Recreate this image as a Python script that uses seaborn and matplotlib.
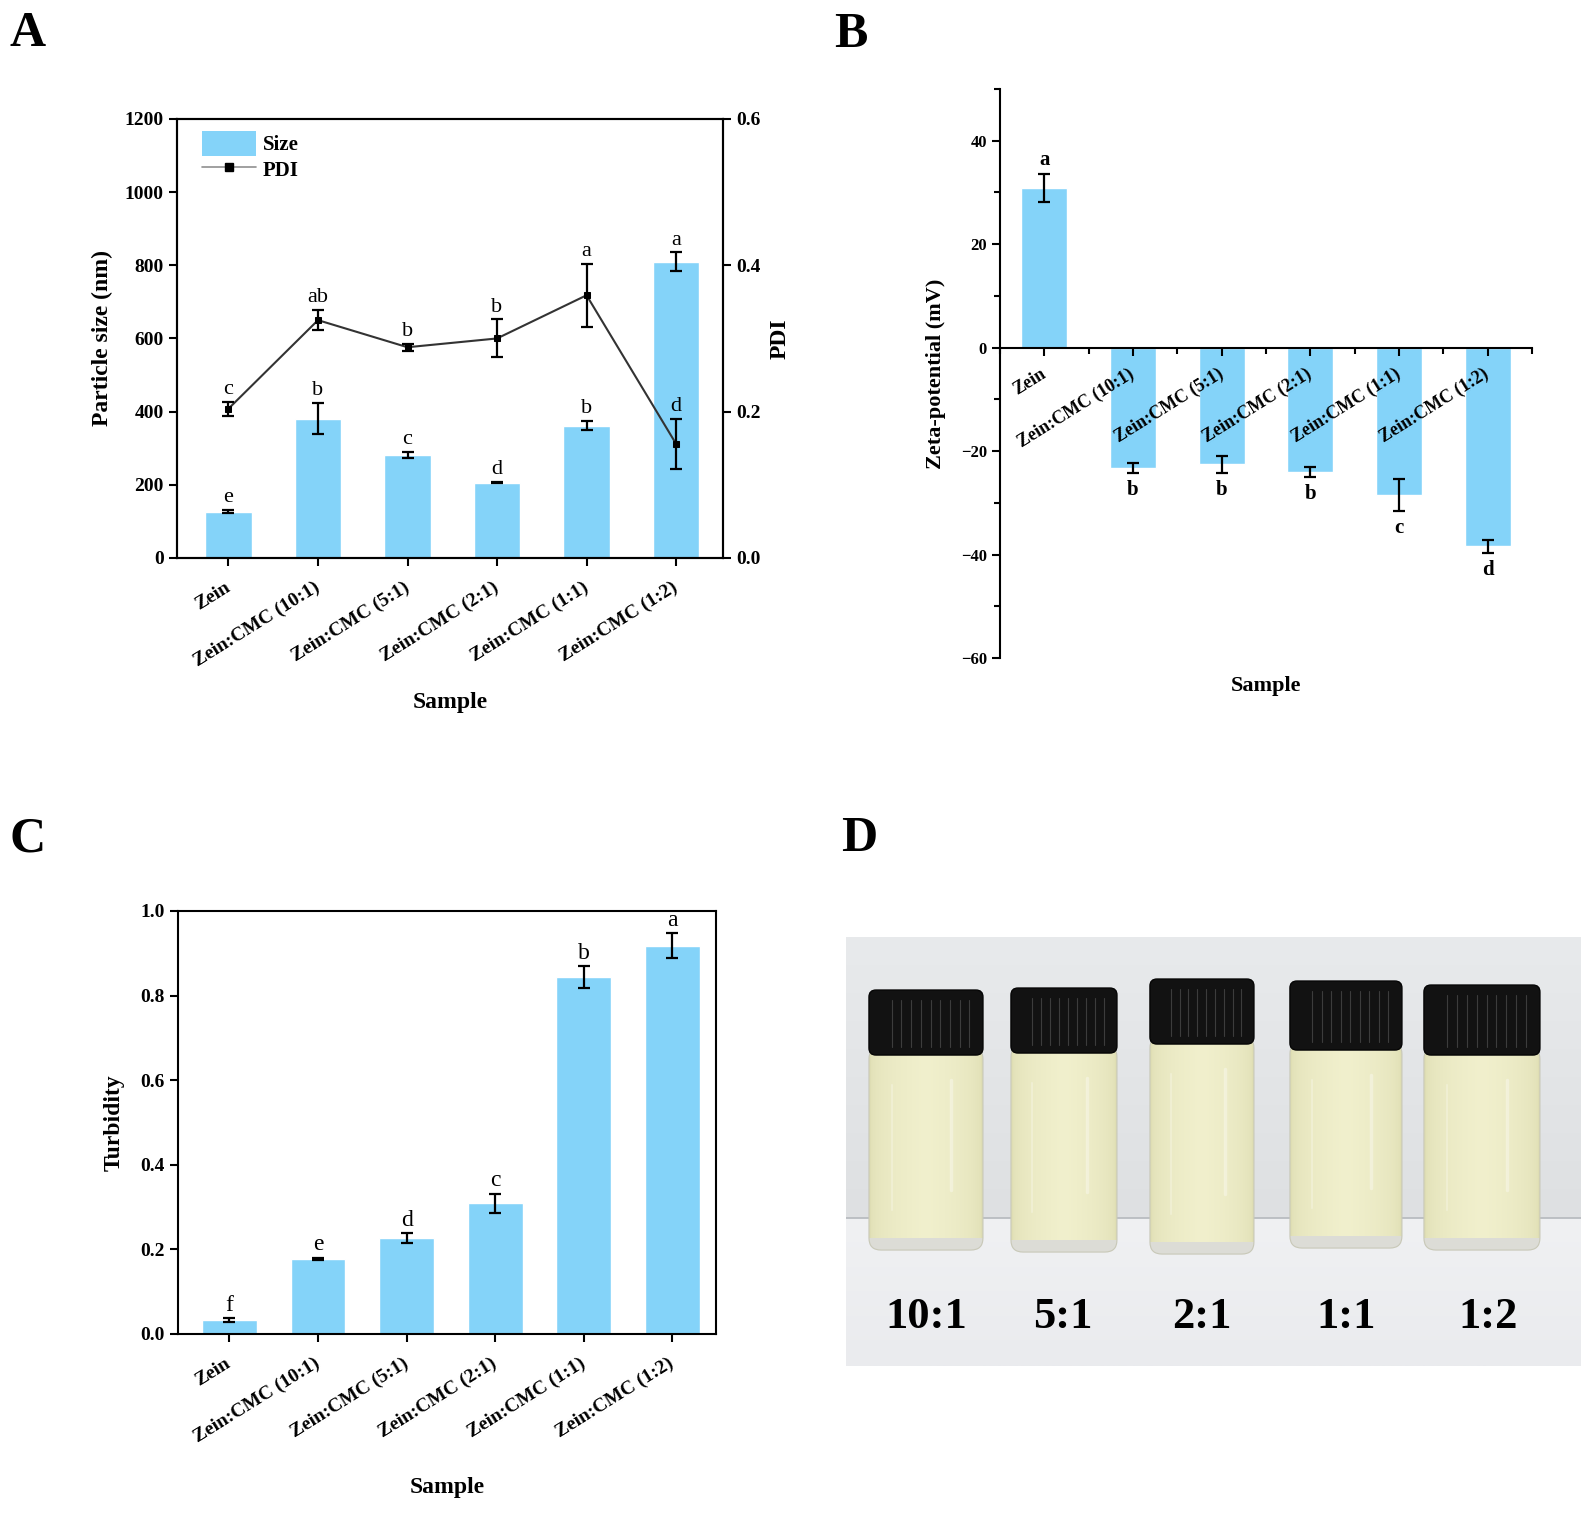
import numpy as np
import matplotlib
matplotlib.use('Agg')
import matplotlib.pyplot as plt
import seaborn as sns
from matplotlib.patches import Patch, FancyBboxPatch, Rectangle
from matplotlib.lines import Line2D
from matplotlib.ticker import MultipleLocator, FormatStrFormatter

# data
samples = ['Zein', 'Zein:CMC (10:1)', 'Zein:CMC (5:1)', 'Zein:CMC (2:1)',
           'Zein:CMC (1:1)', 'Zein:CMC (1:2)']

size_nm = [127, 381, 282, 206, 362, 809]
size_sd = [4, 42, 8, 2, 13, 26]
size_letters = ['e', 'b', 'c', 'd', 'b', 'a']

pdi = [0.204, 0.325, 0.288, 0.300, 0.359, 0.156]
pdi_sd = [0.0095, 0.0136, 0.005, 0.026, 0.043, 0.034]
pdi_letters = ['c', 'ab', 'b', 'b', 'a', 'd']

zeta_mv = [30.8, -23.3, -22.6, -24.1, -28.5, -38.4]
zeta_sd = [2.7, 1.0, 1.6, 1.0, 3.1, 1.3]
zeta_letters = ['a', 'b', 'b', 'b', 'c', 'd']

turbidity = [0.033, 0.178, 0.226, 0.309, 0.844, 0.918]
turb_sd = [0.004, 0.002, 0.012, 0.022, 0.025, 0.029]
turb_letters = ['f', 'e', 'd', 'c', 'b', 'a']

ratios = ['10:1', '5:1', '2:1', '1:1', '1:2']

bar_col = '#84D3F9'

sns.set_style('ticks')
plt.rcParams['font.family'] = ['Liberation Serif', 'DejaVu Serif']
plt.rcParams['font.weight'] = 'bold'
plt.rcParams['axes.labelweight'] = 'bold'
plt.rcParams['axes.linewidth'] = 1.5
plt.rcParams['axes.edgecolor'] = 'black'
for key in ['text.color', 'axes.labelcolor', 'xtick.color', 'ytick.color']:
    plt.rcParams[key] = 'black'

fig = plt.figure(figsize=(15.86, 15.15), dpi=100)
x = np.arange(len(samples))


def style_axis(ax, labelsize=14):
    ax.tick_params(direction='out', length=6, width=1.5, labelsize=labelsize, colors='black')
    for lbl in ax.get_yticklabels():
        lbl.set_fontweight('bold')


def rot_labels(ax, size=14, pad=14):
    ax.set_xticks(x)
    ax.set_xticklabels(samples, rotation=32, ha='right', va='center',
                       rotation_mode='anchor', fontsize=size, fontweight='bold')
    ax.tick_params(axis='x', pad=pad)


def put_letters(ax, vals, sds, letters, size, weight, up=2, down=-6):
    for i, (v, s, t) in enumerate(zip(vals, sds, letters)):
        if v >= 0:
            ax.annotate(t, (i, v + s), xytext=(0, up), textcoords='offset points',
                        ha='center', va='bottom', fontsize=size, fontweight=weight, zorder=6)
        else:
            ax.annotate(t, (i, v - s), xytext=(0, down), textcoords='offset points',
                        ha='center', va='top', fontsize=size, fontweight=weight, zorder=6)


err_kw = dict(fmt='none', ecolor='black', elinewidth=1.6, capsize=4, capthick=1.6, zorder=4)

# ---------------- A: particle size + PDI ----------------
axA = fig.add_axes([0.1116, 0.6317, 0.3443, 0.2898])
sns.barplot(x=samples, y=size_nm, color=bar_col, saturation=1, width=0.52, ax=axA)
axA.errorbar(x, size_nm, yerr=size_sd, **err_kw)
axA.set_xlim(-0.575, 5.525)
axA.set_ylim(0, 1200)
axA.yaxis.set_major_locator(MultipleLocator(200))
put_letters(axA, size_nm, size_sd, size_letters, 16, 'normal')
axA.set_ylabel('Particle size (nm)', fontsize=17)
axA.yaxis.set_label_coords(-0.117, 0.5)
axA.set_xlabel('Sample', fontsize=17)
axA.xaxis.set_label_coords(0.5, -0.305)
style_axis(axA)
rot_labels(axA)

axA2 = axA.twinx()
sns.lineplot(x=x, y=pdi, ax=axA2, color='#333333', lw=1.5, marker='s', markersize=5,
             markerfacecolor='black', markeredgecolor='black')
axA2.errorbar(x, pdi, yerr=pdi_sd, **err_kw)
axA2.set_ylim(0, 0.6)
axA2.yaxis.set_major_locator(MultipleLocator(0.2))
axA2.yaxis.set_major_formatter(FormatStrFormatter('%.1f'))
put_letters(axA2, pdi, pdi_sd, pdi_letters, 16, 'normal')
axA2.set_ylabel('PDI', fontsize=17)
axA2.yaxis.set_label_coords(1.086, 0.5)
style_axis(axA2)
for sp in axA2.spines.values():
    sp.set_linewidth(1.5)

handles = [Patch(facecolor=bar_col, edgecolor='none', label='Size'),
           Line2D([0], [0], color='#909090', lw=1.2, marker='s', markersize=6,
                  markerfacecolor='black', markeredgecolor='black', label='PDI')]
axA.legend(handles=handles, loc='upper left', bbox_to_anchor=(0.046, 0.972), frameon=False,
           prop={'weight': 'bold', 'size': 15}, handlelength=2.6, handleheight=1.45,
           borderpad=0, borderaxespad=0, labelspacing=0.05, handletextpad=0.3)

# ---------------- B: zeta potential ----------------
axB = fig.add_axes([0.6305, 0.5657, 0.3354, 0.3756])
sns.barplot(x=samples, y=zeta_mv, color=bar_col, saturation=1, width=0.52, ax=axB)
axB.errorbar(x, zeta_mv, yerr=zeta_sd, **err_kw)
axB.set_axisbelow(False)
axB.set_xlim(-0.5, 5.5)
axB.set_ylim(-60, 50)
axB.yaxis.set_major_locator(MultipleLocator(20))
axB.yaxis.set_minor_locator(MultipleLocator(10))
axB.xaxis.set_minor_locator(MultipleLocator(1, offset=0.5))
axB.spines['top'].set_visible(False)
axB.spines['right'].set_visible(False)
axB.spines['bottom'].set_position(('data', 0))
put_letters(axB, zeta_mv, zeta_sd, zeta_letters, 15, 'bold', up=3, down=-5)
axB.set_ylabel('Zeta-potential (mV)', fontsize=16)
axB.yaxis.set_label_coords(-0.1015, 0.5)
style_axis(axB, labelsize=12)
axB.tick_params(which='minor', direction='out', length=4, width=1.5)
rot_labels(axB, size=13, pad=12)
axB.set_xlabel('')
fig.text(1000 / 1586 + 0.3354 / 2, 1 - 676 / 1515, 'Sample', ha='center', va='top',
         fontsize=16, fontweight='bold')

# ---------------- C: turbidity ----------------
axC = fig.add_axes([0.1122, 0.1195, 0.3392, 0.2792])
sns.barplot(x=samples, y=turbidity, color=bar_col, saturation=1, width=0.62, ax=axC)
axC.errorbar(x, turbidity, yerr=turb_sd, **err_kw)
axC.set_xlim(-0.58, 5.49)
axC.set_ylim(0, 1.0)
axC.yaxis.set_major_locator(MultipleLocator(0.2))
axC.yaxis.set_major_formatter(FormatStrFormatter('%.1f'))
put_letters(axC, turbidity, turb_sd, turb_letters, 17, 'normal')
axC.set_ylabel('Turbidity', fontsize=17)
axC.yaxis.set_label_coords(-0.0985, 0.5)
axC.set_xlabel('Sample', fontsize=17)
axC.xaxis.set_label_coords(0.5, -0.338)
style_axis(axC)
rot_labels(axC)

# ---------------- D: photo of the vials (drawn) ----------------
axD = fig.add_axes([0.5334, 0.0983, 0.4634, 0.2832])
x0, x1, y0, y1 = 846, 1581, 937, 1366
shelf = 1218
rows = np.linspace(y0, y1, 200)
bg = np.zeros((200, 1, 3))
for k, yy in enumerate(rows):
    if yy < shelf:
        t = (yy - y0) / (shelf - y0)
        c = np.array([232, 234, 236]) * (1 - t) + np.array([222, 224, 226]) * t
    else:
        t = (yy - shelf) / (y1 - shelf)
        c = np.array([240, 241, 243]) * (1 - t) + np.array([234, 235, 238]) * t
    bg[k, 0] = c / 255
axD.imshow(bg, extent=(x0, x1, y1, y0), aspect='auto', zorder=0)
axD.plot([x0, x1], [shelf, shelf], color='#b4b8bc', lw=1.2, zorder=1)

vial_geom = [(926, 114, 990, 1055, 1250), (1064, 106, 988, 1053, 1252),
             (1202, 104, 979, 1044, 1254), (1346, 112, 981, 1050, 1248),
             (1482, 116, 985, 1055, 1250)]
label_x = [926, 1063, 1202, 1346, 1488]

cols = np.linspace(0, 1, 60)
edge = np.array([222, 221, 178]) / 255
mid = np.array([241, 240, 205]) / 255
liquid = np.zeros((1, 60, 3))
for k, c in enumerate(cols):
    t = np.clip(1 - abs(c - 0.5) * 2, 0, 1) ** 0.4
    liquid[0, k] = edge * (1 - t) + mid * t

for (cx, w, ct, cb, bb), lx, lab in zip(vial_geom, label_x, ratios):
    body = FancyBboxPatch((cx - w / 2, cb - 8), w, bb - cb + 8,
                          boxstyle='round,pad=0,rounding_size=12',
                          fc='none', ec='#c8c8b8', lw=0.8, zorder=3)
    axD.add_patch(body)
    im = axD.imshow(liquid, extent=(cx - w / 2, cx + w / 2, bb, cb - 8), aspect='auto', zorder=2)
    im.set_clip_path(body)
    glass = Rectangle((cx - w / 2, bb - 12), w, 12, fc='#dcdcd6', ec='none', zorder=2.5)
    axD.add_patch(glass)
    glass.set_clip_path(body)
    axD.plot([cx + 0.22 * w, cx + 0.22 * w], [cb + 25, bb - 60], color='white', lw=2.5,
             alpha=0.35, zorder=3)
    axD.plot([cx - 0.3 * w, cx - 0.3 * w], [cb + 30, bb - 40], color='white', lw=1.5,
             alpha=0.25, zorder=3)
    cap = FancyBboxPatch((cx - w / 2, ct), w, cb - ct,
                         boxstyle='round,pad=0,rounding_size=7',
                         fc='#121212', ec='#050505', lw=1, zorder=4)
    axD.add_patch(cap)
    for dx in np.linspace(-0.3, 0.38, 9):
        axD.plot([cx + dx * w, cx + dx * w], [ct + 10, cb - 8], color='#3c3c3c', lw=0.8, zorder=5)
    axD.text(lx, 1317, lab, ha='center', va='center', fontsize=32, fontweight='bold', zorder=6)

axD.set_xlim(x0, x1)
axD.set_ylim(y1, y0)
axD.axis('off')

# panel letters
for lx, ly, t in [(9, 46, 'A'), (834, 47, 'B'), (9, 851, 'C'), (841, 851, 'D')]:
    fig.text(lx / 1586, 1 - ly / 1515, t, ha='left', va='baseline', fontsize=36, fontweight='bold')

fig.savefig('out.png', dpi=100)
